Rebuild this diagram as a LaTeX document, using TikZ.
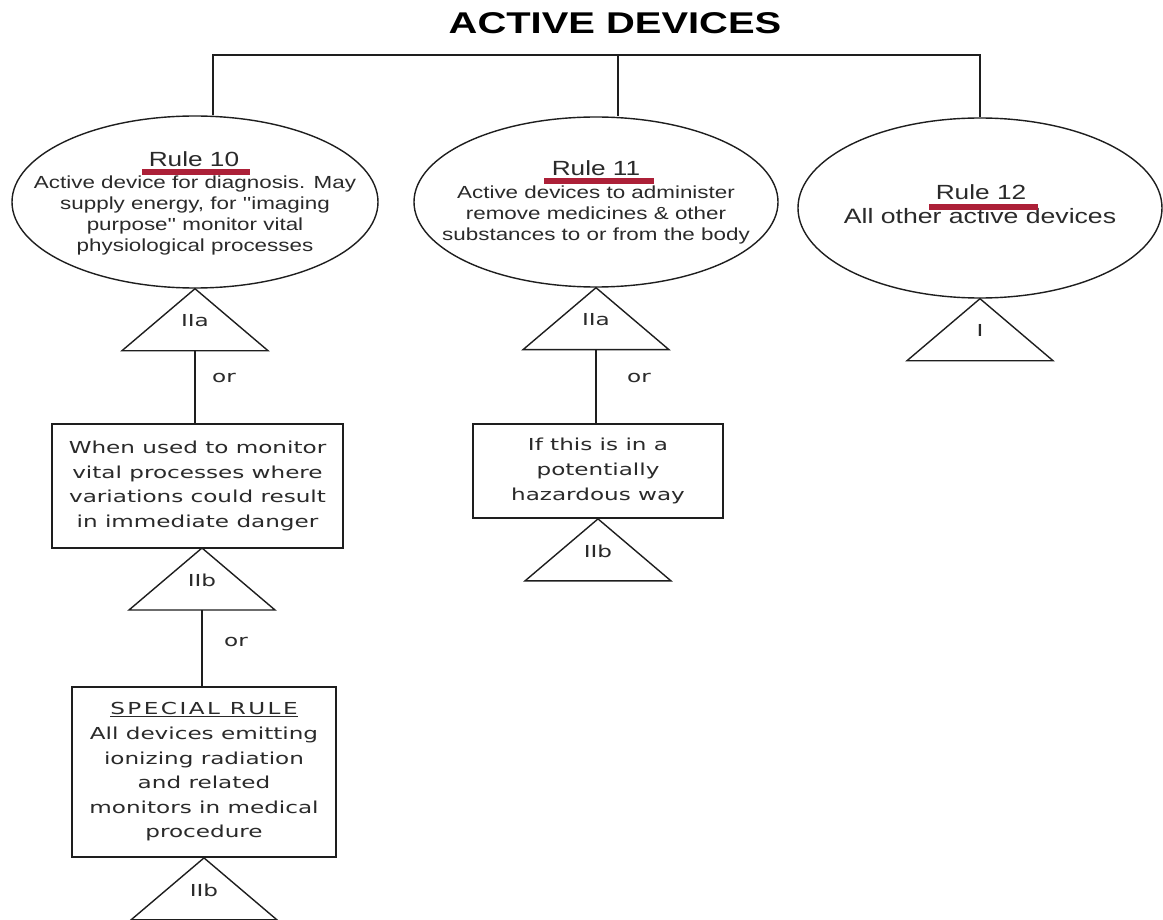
\documentclass[tikz,border=0pt]{standalone}
\usepackage{fontspec}
\usetikzlibrary{shapes.geometric,calc}
\newfontfamily\headfont[FakeStretch=1.33]{Liberation Sans}
\newfontfamily\ovalfont[FakeStretch=1.28]{Liberation Sans}
\newfontfamily\boxfont[FakeStretch=1.4]{DejaVu Sans}
\newfontfamily\spacedfont[FakeStretch=1.4,LetterSpace=15]{DejaVu Sans}
\definecolor{ink}{HTML}{1E1E1E}
\definecolor{txt}{HTML}{2A2A2A}
\definecolor{rulered}{RGB}{172,32,56}

\tikzset{
  wire/.style={draw=ink,line width=1.8},
  oval/.style={draw=ink,line width=1.4,ellipse,inner sep=0},
  rulelbl/.style={inner sep=0,anchor=base,text=txt,font=\ovalfont\fontsize{20.5}{24}\selectfont},
  ovaltext/.style={inner sep=0,align=center,text=txt,font=\ovalfont\fontsize{17.5}{21.3}\selectfont},
  stepbox/.style={draw=ink,line width=1.8,rectangle,inner sep=0,align=center,text=txt,font=\boxfont\fontsize{16.5}{24.6}\selectfont},
  small/.style={inner sep=0,text=txt,font=\boxfont\fontsize{16.5}{20}\selectfont},
  redbar/.style={fill=rulered},
  tri/.pic={
    \coordinate (-apex) at (0,0);
    \coordinate (-base) at (0,62);
    \draw[ink,line width=1.4] (-73,62) -- (0,0) -- (73,62) -- cycle;
    \node[small] (-lab) at (0,32) {#1};
  }
}

\begin{document}
\begin{tikzpicture}[x=1pt,y=-1pt]
\useasboundingbox[fill=white] (0,0) rectangle (1163,920);

% heading and the three branches
\node[anchor=base,inner sep=0,text=black,font=\headfont\bfseries\fontsize{30}{36}\selectfont] (title) at (615,33.5) {ACTIVE DEVICES};

\node[oval,minimum width=366,minimum height=172] (e10) at (195,202) {};
\node[oval,minimum width=364,minimum height=170] (e11) at (596,202) {};
\node[oval,minimum width=364,minimum height=180] (e12) at (980,208) {};

\coordinate (j10) at (213,55);
\coordinate (j11) at (618,55);
\coordinate (j12) at (980,55);
\draw[wire] (j10 |- e10.north) -- (j10) -- (j12) -- (e12.north);
\draw[wire] (j11) -- (j11 |- e11.north);

% rule texts
\node[rulelbl] (r10) at (194,167) {Rule 10};
\node[ovaltext,anchor=north] (d10) at (195,175.2) {Active device for diagnosis. May\\supply energy, for ''imaging\\purpose'' monitor vital\\physiological processes};
\node[rulelbl] (r11) at (596,176) {Rule 11};
\node[ovaltext,anchor=north] (d11) at (596,185.2) {Active devices to administer\\remove medicines \& other\\substances to or from the body};
\node[rulelbl] (r12) at (981,200) {Rule 12};
\node[ovaltext,anchor=base,font=\ovalfont\fontsize{20.8}{24}\selectfont] (d12) at (980,224) {All other active devices};

\fill[redbar] ($(r10.base)+(-52,2)$) rectangle ($(r10.base)+(56,8)$);
\fill[redbar] ($(r11.base)+(-52,2.5)$) rectangle ($(r11.base)+(58,8.5)$);
\fill[redbar] ($(r12.base)+(-52,4)$) rectangle ($(r12.base)+(57,10)$);

% class triangles under the rules
\pic (t10) at (e10.south) {tri=IIa};
\pic (t11) at (e11.south) {tri=IIa};
\pic (t12) at (e12.south) {tri=I};

% left branch
\node[stepbox,minimum width=291,minimum height=124] (b1) at (197.5,486)
  {When used to monitor\\vital processes where\\variations could result\\in immediate danger};
\draw[wire] (t10-base) -- (t10-base |- b1.north);
\node[small] (or1) at (224,378) {or};

\pic (t1b) at (202,548) {tri=IIb};

\node[stepbox,minimum width=264,minimum height=170] (b3) at (204,772)
  {{\spacedfont\underline{SPECIAL RULE}}\\All devices emitting\\ionizing radiation\\and related\\monitors in medical\\procedure};
\draw[wire] (t1b-base) -- (t1b-base |- b3.north);
\node[small] (or3) at (236,642) {or};

\pic (t3b) at (b3.south) {tri=IIb};

% middle branch
\node[stepbox,minimum width=250,minimum height=94] (b2) at (598,471)
  {If this is in a\\potentially\\hazardous way};
\draw[wire] (t11-base) -- (t11-base |- b2.north);
\node[small] (or2) at (639,378) {or};

\pic (t2b) at (b2.south) {tri=IIb};
\end{tikzpicture}
\end{document}
